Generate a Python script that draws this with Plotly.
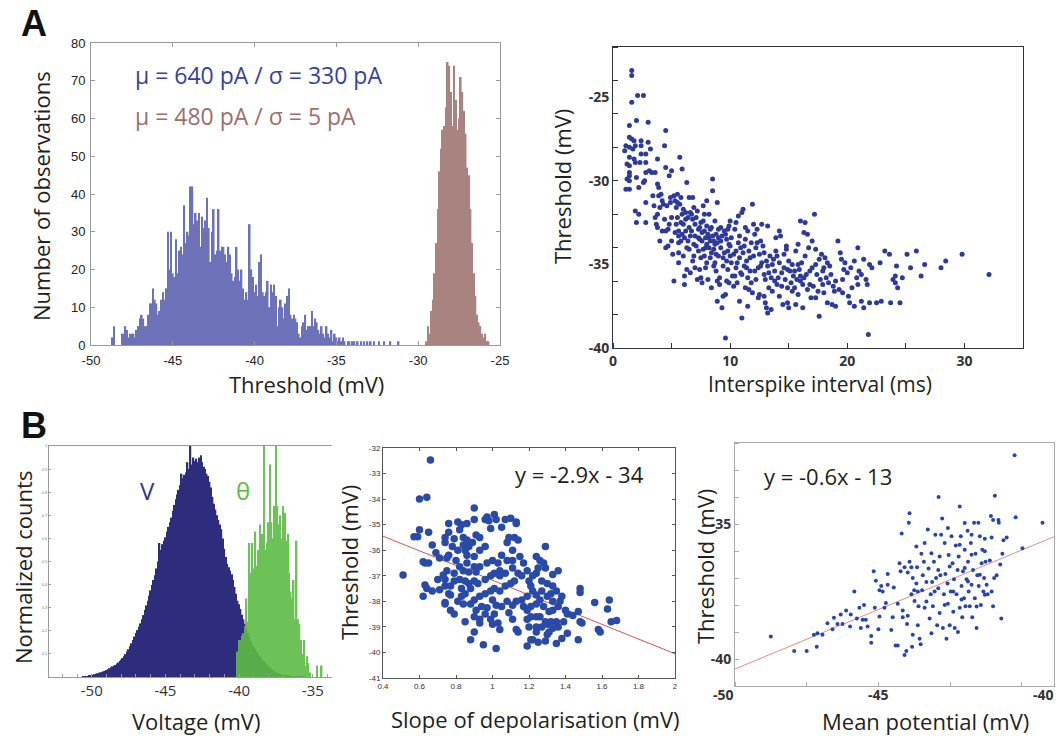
import numpy as np
import plotly.graph_objects as go

W, H = 1059, 736

# ---------------- panel A left : threshold histograms (counts per 0.1 mV bin)
thr_blue_start = -49.0
thr_blue_counts = [
    0, 0, 0, 2, 5, 0, 0, 0, 0, 3, 3,
    5, 4, 2, 3, 3, 3, 2, 4, 5, 7,
    8, 7, 5, 5, 8, 11, 11, 15, 12, 11,
    8, 9, 12, 14, 12, 15, 30, 20, 30, 19,
    18, 28, 19, 25, 26, 24, 37, 27, 30, 29,
    42, 42, 32, 35, 33, 35, 26, 34, 31, 33,
    39, 31, 22, 30, 36, 24, 25, 36, 25, 26,
    26, 24, 22, 26, 24, 19, 17, 18, 26, 20,
    17, 20, 15, 12, 14, 12, 32, 20, 18, 14,
    16, 13, 22, 24, 14, 13, 14, 17, 10, 16,
    14, 16, 13, 5, 10, 12, 10, 7, 11, 13,
    15, 8, 7, 8, 7, 6, 3, 2, 5, 6,
    8, 4, 5, 5, 9, 5, 7, 6, 4, 3,
    5, 3, 2, 5, 3, 2, 4, 1, 3, 2,
    1, 2, 1, 2, 1, 0, 1, 1, 0, 1,
    1, 0, 1, 0, 1, 0, 1, 0, 1, 0,
    1, 0, 1, 0, 0, 1, 0, 0, 1, 0,
    0, 0, 1, 0, 0, 0, 0, 1,
]
thr_brown_start = -29.5
thr_brown_counts = [1, 5, 3, 9, 12, 19, 27, 36, 46, 52, 57, 58, 63, 75, 74, 67, 58, 74, 65, 57,
                    60, 71, 67, 62, 56, 47, 45, 36, 27, 19, 13, 8, 6, 5, 3, 2, 3, 1, 1]
thr_ticks = [-50, -45, -40, -35, -30, -25]

# ---------------- panel A right : threshold vs interspike interval (ms, mV)
isi_points = [
    (1.0, -28.2), (1.1, -27.9), (1.2, -29.0), (1.2, -29.9), (1.1, -30.5), (1.4, -26.7), (1.4, -27.4), (1.4, -28.0),
    (1.4, -28.6), (1.4, -29.1), (1.4, -29.5), (1.4, -30.0), (1.4, -30.5), (1.4, -29.7), (1.6, -23.4), (1.6, -23.7),
    (1.6, -25.3), (1.6, -27.5), (1.7, -28.1), (1.8, -27.6), (1.8, -28.7), (1.9, -27.9), (1.9, -28.9), (2.0, -26.4),
    (2.0, -29.8), (1.9, -31.8), (2.0, -32.5), (2.2, -32.0), (2.2, -30.4),
    (2.4, -27.9), (2.4, -27.6), (2.4, -28.4), (2.1, -24.9), (2.6, -24.9), (2.3, -28.9), (2.6, -30.1), (2.7, -30.0),
    (2.8, -28.4), (2.8, -28.9), (2.8, -29.5), (2.8, -31.3), (2.8, -32.5), (3.0, -26.5), (3.0, -27.7), (3.2, -28.1),
    (3.3, -29.5), (3.1, -29.4), (3.4, -30.9),
    (3.6, -29.5), (3.8, -28.7), (3.8, -30.2), (3.9, -30.4), (3.9, -30.9), (4.0, -31.6), (3.8, -32.0), (3.7, -32.6),
    (3.8, -32.8), (4.0, -33.6), (4.2, -31.2), (4.3, -31.4), (4.4, -27.9), (4.5, -27.0), (4.5, -29.2), (4.4, -32.3),
    (4.5, -33.0), (4.5, -34.0), (4.7, -32.9), (4.8, -29.7), (5.0, -29.4), (4.9, -31.3), (4.9, -31.0), (5.0, -32.2),
    (5.0, -33.6), (5.1, -34.4), (4.7, -33.9), (5.2, -36.0), (5.3, -31.2),
    (5.5, -30.8), (5.5, -31.3), (5.5, -32.2), (5.6, -33.0), (5.6, -33.3), (5.6, -34.3), (5.6, -34.9), (5.7, -28.6),
    (5.9, -29.3), (5.8, -31.0), (5.8, -32.5), (5.9, -33.2), (6.0, -32.6), (6.0, -31.7), (6.0, -34.5), (6.1, -36.2),
    (6.1, -35.7), (6.2, -33.0), (6.2, -31.9), (6.3, -30.1), (6.4, -32.2), (6.4, -33.6), (6.3, -34.0), (6.5, -31.0),
    (6.5, -32.8), (6.5, -34.1),
    (6.6, -33.3), (6.6, -35.5), (6.7, -32.0), (6.8, -31.0), (6.9, -33.8), (6.9, -34.5), (7.0, -32.6), (7.0, -35.2),
    (7.1, -33.9), (7.2, -31.8), (7.3, -34.2), (7.3, -33.4), (7.4, -33.5), (7.4, -35.3), (7.5, -32.5), (7.5, -34.6),
    (7.6, -33.6), (7.6, -36.1), (7.7, -34.1), (7.8, -32.0), (7.8, -33.0), (7.9, -33.4), (7.9, -34.0), (7.9, -35.2),
    (8.0, -32.7), (8.0, -33.8),
    (8.1, -33.2), (8.1, -35.9), (8.2, -32.0), (8.2, -34.0), (8.3, -33.6), (8.3, -34.6), (8.4, -32.8), (8.5, -29.9),
    (8.5, -30.6), (8.5, -33.3), (8.6, -34.1), (8.6, -35.1), (8.7, -32.4), (8.7, -33.8), (8.8, -33.2), (8.8, -34.4),
    (8.8, -35.4), (8.9, -31.3), (8.9, -37.2), (8.9, -36.0), (9.0, -33.4), (9.0, -34.5), (9.1, -35.8), (9.1, -36.2),
    (9.2, -32.8), (9.2, -34.0), (9.3, -33.3), (9.3, -37.6), (9.4, -35.1), (9.4, -36.9), (9.5, -34.3),
    (9.6, -33.2), (9.6, -39.4), (9.7, -34.8), (9.8, -32.9), (9.8, -35.3), (9.9, -33.8), (9.9, -36.1), (10.0, -32.4),
    (10.0, -34.5), (10.1, -33.4), (10.2, -35.7), (10.3, -36.3), (10.4, -32.9), (10.5, -34.2), (10.5, -35.2),
    (10.6, -36.1), (10.7, -32.1), (10.8, -34.6), (10.8, -33.3), (10.9, -35.5), (11.0, -38.2), (11.0, -31.9),
    (11.1, -31.7), (11.1, -34.3), (11.2, -35.1), (11.3, -33.5), (11.3, -36.4), (11.4, -34.8), (11.5, -33.0),
    (11.5, -35.8), (11.6, -34.2), (11.7, -35.4), (11.8, -33.7), (11.8, -36.1), (11.9, -31.4), (12.0, -32.6),
    (12.0, -34.5), (12.1, -33.2), (12.2, -35.9), (12.2, -34.0), (12.3, -32.9), (12.4, -35.2), (12.5, -34.4),
    (12.5, -36.8),
    (12.7, -32.6), (12.8, -33.9), (12.9, -35.6), (12.9, -36.9), (13.0, -37.3), (13.1, -34.8), (13.1, -37.6),
    (13.2, -32.7), (13.2, -35.1), (13.3, -36.4), (13.4, -34.5), (13.5, -35.8), (13.5, -37.7), (13.6, -36.6),
    (13.7, -34.7), (13.8, -35.4), (13.9, -34.2), (14.0, -36.2),
    (14.1, -35.8), (14.2, -33.0), (14.2, -34.9), (14.3, -33.3), (14.4, -35.5), (14.4, -36.3), (14.5, -37.4),
    (14.6, -34.4), (14.7, -35.9), (14.8, -33.9), (14.9, -36.4), (15.0, -37.6), (15.0, -34.8), (15.1, -35.4),
    (15.2, -36.1), (15.3, -35.0), (15.4, -35.7), (15.5, -36.4),
    (15.6, -34.2), (15.6, -37.4), (15.7, -35.9), (15.8, -33.8), (15.8, -36.8), (15.9, -35.3), (16.0, -32.4),
    (16.0, -35.7), (16.1, -34.9), (16.2, -36.2), (16.3, -33.1), (16.4, -32.5), (16.4, -34.5), (16.5, -35.6),
    (16.6, -36.5), (16.7, -34.0), (16.8, -35.4), (16.9, -37.0), (17.0, -35.2),
    (17.2, -32.0), (17.3, -34.1), (17.4, -35.6), (17.5, -36.6), (17.6, -34.7), (17.6, -38.1), (17.7, -35.9),
    (17.8, -34.4), (17.9, -36.2), (18.0, -35.2), (18.0, -36.7), (18.1, -34.6), (18.2, -35.8), (18.3, -37.3),
    (18.4, -36.1), (18.5, -35.1), (18.7, -37.4), (18.8, -36.3), (19.0, -37.5),
    (19.2, -33.6), (19.3, -36.5), (19.4, -34.3), (19.5, -34.7), (19.6, -36.7), (19.7, -35.3), (19.8, -34.9),
    (20.0, -35.5), (20.1, -36.9), (20.4, -36.4), (20.6, -34.8), (20.6, -37.5), (20.8, -35.8), (20.9, -34.0),
    (20.9, -36.2), (21.0, -35.4), (21.2, -35.6), (21.4, -34.7), (21.4, -37.6), (21.6, -35.9), (21.7, -36.2),
    (21.8, -39.2), (21.9, -35.0), (21.9, -37.3),
    (22.1, -35.2), (22.5, -37.3), (22.8, -34.9), (22.9, -37.2), (23.2, -34.2), (23.6, -34.4), (23.7, -37.3),
    (23.9, -35.9), (24.1, -35.7), (24.1, -36.1), (24.2, -35.1), (24.3, -36.4), (24.5, -37.3), (24.7, -35.8),
    (25.1, -34.4), (25.4, -35.2), (25.9, -34.2), (26.3, -35.7), (26.6, -35.0), (28.0, -35.2), (28.4, -34.8),
    (29.8, -34.4), (32.1, -35.6),
    (5.4, -31.6), (5.7, -31.4), (5.9, -32.0), (6.2, -32.3), (6.6, -31.9), (6.8, -32.3), (7.1, -32.2), (7.3, -32.9),
    (7.7, -32.4), (7.6, -33.1), (8.3, -32.9), (8.6, -33.6), (8.9, -33.7), (9.2, -33.6), (9.5, -33.0), (9.7, -33.5),
    (10.0, -33.9), (10.3, -34.4), (10.6, -34.9), (10.9, -34.0), (11.4, -35.2), (11.7, -34.6), (12.1, -35.4),
    (12.6, -35.1), (13.3, -35.5), (13.8, -36.0), (14.6, -35.2), (15.3, -36.6), (16.0, -36.0), (16.8, -36.2),
    (17.3, -35.0), (18.6, -35.6), (5.6, -33.7), (6.8, -34.8), (7.2, -35.9), (8.0, -34.9), (9.8, -34.2),
    (10.4, -35.7), (11.9, -36.7), (12.9, -34.3), (14.2, -36.9), (15.8, -35.0), (17.0, -33.6), (19.6, -35.9),
    (20.3, -35.2),
    (4.1, -30.8), (4.6, -31.5), (5.2, -30.9), (5.4, -32.6), (5.8, -33.6), (6.1, -33.4), (6.7, -33.0), (7.0, -33.3),
    (7.4, -32.8), (7.8, -34.5), (8.2, -33.4), (8.4, -34.3), (8.7, -34.9), (9.0, -32.9), (9.4, -34.6), (9.7, -36.0),
    (10.1, -34.9), (10.7, -33.7), (11.0, -35.6), (11.2, -33.9), (11.6, -36.5), (12.3, -33.7), (12.7, -34.9),
    (13.0, -35.9), (13.6, -35.0), (14.0, -34.5), (14.9, -35.3), (15.5, -35.4), (16.3, -35.8), (17.1, -36.3),
    (17.9, -35.4), (18.3, -34.9), (19.0, -36.0), (3.5, -31.5), (3.6, -32.2), (4.2, -33.0), (4.8, -32.6),
    (5.3, -33.1), (6.9, -31.6), (7.7, -31.5), (8.0, -31.2), (9.9, -32.7), (10.5, -32.5), (11.3, -32.8),
    (12.6, -33.6), (13.9, -33.4), (14.8, -34.1), (16.6, -33.2), (6.3, -35.3), (7.5, -35.8), (8.4, -36.4),
    (9.6, -36.8), (10.8, -37.2), (11.5, -37.5), (12.4, -37.0), (13.2, -37.9), (14.9, -37.3), (16.2, -37.6),
    (17.3, -37.0), (18.9, -36.6), (20.2, -37.3), (21.2, -37.2),
]
isi_xticks = [0, 10, 20, 30]
isi_yticks = [-40, -35, -30, -25]

# ---------------- panel B left : normalized histograms of V and theta
volt_start = -51.0
volt_counts = [
    0, 0, 0, 0, 0.001, 0.002, 0.003, 0.004, 0.005, 0.006,
    0.008, 0.010, 0.012, 0.014, 0.016, 0.018, 0.020, 0.022, 0.025, 0.027,
    0.030, 0.034, 0.038, 0.042, 0.046, 0.049, 0.052, 0.058, 0.063, 0.069,
    0.075, 0.082, 0.090, 0.099, 0.110, 0.120, 0.133, 0.146, 0.160, 0.175,
    0.190, 0.203, 0.218, 0.232, 0.250, 0.268, 0.290, 0.310, 0.330, 0.352,
    0.375, 0.398, 0.420, 0.440, 0.470, 0.500, 0.580, 0.550, 0.575, 0.590,
    0.605, 0.630, 0.650, 0.670, 0.690, 0.720, 0.745, 0.770, 0.790, 0.810,
    0.830, 0.880, 0.860, 0.875, 0.885, 0.930, 0.900, 1.000, 0.920, 0.950,
    0.935, 0.945, 0.930, 0.950, 0.960, 0.930, 0.910, 0.900, 0.880, 0.870,
    0.845, 0.820, 0.780, 0.750, 0.725, 0.700, 0.680, 0.660, 0.640, 0.600,
    0.555, 0.520, 0.490, 0.475, 0.460, 0.445, 0.420, 0.390, 0.360, 0.330,
    0.315, 0.295, 0.270, 0.250, 0.230, 0.210, 0.190, 0.172, 0.156, 0.140,
    0.130, 0.120, 0.110, 0.100, 0.091, 0.083, 0.074, 0.066, 0.060, 0.053,
    0.047, 0.041, 0.035, 0.030, 0.026, 0.022, 0.019, 0.016, 0.013, 0.011,
    0.010, 0.008, 0.007, 0.006, 0.005, 0.004, 0.004, 0.003, 0.003, 0.003,
    0.002, 0.002, 0.001, 0.001, 0.001,
]
theta_start = -40.1
theta_counts = [
    0.11, 0.16, 0.16, 0.18, 0.19, 0.22, 0.34, 0.24, 0.58, 0.45,
    0.58, 0.47, 0.63, 0.48, 0.55, 0.66, 0.57, 0.62, 1.00, 0.55,
    0.58, 0.67, 0.92, 0.67, 0.60, 0.74, 1.00, 0.74, 0.66, 0.70,
    0.60, 0.74, 0.71, 0.59, 0.62, 0.45, 0.37, 0.34, 0.42, 0.25,
    0.59, 0.25, 0.23, 0.16, 0.10, 0.16, 0.05, 0.09, 0.06, 0.02,
    0, 0, 0, 0, 0.05, 0, 0, 0.05, 0,
]
volt_xticks = [-50, -45, -40, -35]
norm_yticks = [0.1, 0.2, 0.3, 0.4, 0.5, 0.6, 0.7, 0.8, 0.9, 1.0]

# ---------------- panel B middle : threshold vs slope of depolarisation
slope_points = [
    (0.66, -32.47), (0.60, -34.0), (0.64, -33.93), (0.51, -36.97), (0.57, -35.47), (0.59, -35.47), (0.60, -35.2),
    (0.65, -35.3), (0.67, -35.8), (0.63, -36.5), (0.65, -36.5), (0.62, -36.45), (0.63, -37.36), (0.64, -37.5),
    (0.62, -37.8), (0.74, -38.05), (0.69, -36.1), (0.71, -36.3), (0.74, -35.7), (0.76, -34.95), (0.74, -35.5),
    (0.76, -35.3), (0.81, -34.9), (0.83, -35.0), (0.82, -35.2), (0.84, -35.5), (0.86, -34.95), (0.90, -34.35),
    (0.90, -34.8), (0.87, -35.85), (0.86, -36.2), (0.76, -36.2), (0.75, -36.3), (0.78, -35.85), (0.79, -35.55),
    (0.84, -35.8), (0.91, -35.4), (0.93, -35.5), (0.97, -34.7), (0.98, -34.85), (1.01, -34.6), (1.02, -34.8),
    (0.99, -35.15), (0.96, -35.85), (0.93, -36.0), (0.90, -36.25), (0.86, -36.5), (0.82, -36.65), (0.79, -36.9),
    (0.73, -36.97), (0.74, -37.15), (0.74, -37.4), (0.77, -37.4), (0.77, -37.75), (0.79, -37.2), (0.83, -37.5),
    (0.85, -37.2), (0.87, -36.85), (0.90, -36.65), (0.91, -36.85), (0.93, -36.65), (0.97, -36.5), (1.00, -36.4),
    (1.03, -36.5), (1.05, -36.2), (1.08, -36.4), (1.07, -36.9), (1.04, -36.8), (1.01, -36.9), (0.99, -37.0),
    (0.96, -37.15), (0.92, -37.3), (0.90, -37.2), (0.88, -37.5), (0.85, -37.7), (0.83, -37.8), (0.81, -38.0),
    (0.76, -37.7), (0.74, -38.1), (0.77, -38.35), (0.79, -38.5), (0.84, -38.1), (0.88, -38.1), (0.90, -37.95),
    (0.93, -37.8), (0.96, -37.7), (0.99, -37.6), (1.01, -37.5), (1.04, -37.6), (1.07, -37.4), (1.10, -37.3),
    (1.12, -37.2), (1.14, -36.9), (1.11, -36.7), (1.08, -35.7), (1.09, -35.5), (1.12, -35.5), (1.14, -35.6),
    (1.10, -34.75), (1.13, -34.9), (1.13, -34.95), (1.11, -36.0), (1.11, -36.4), (1.15, -36.25), (1.17, -36.5),
    (1.19, -36.8), (1.16, -37.0), (1.20, -37.2), (1.21, -37.4), (1.22, -37.6), (1.19, -37.8), (1.16, -37.95),
    (1.13, -38.0), (1.11, -38.15), (1.08, -38.0), (1.05, -38.2), (1.02, -38.15), (1.00, -37.95), (0.97, -38.25),
    (0.94, -38.2), (0.91, -38.35), (0.90, -38.6), (0.93, -38.7), (0.96, -38.5), (0.99, -38.7), (1.01, -38.5),
    (1.00, -38.9), (1.03, -38.85), (1.04, -39.1), (1.09, -38.45), (1.11, -38.7), (1.13, -39.1), (1.14, -39.2),
    (1.17, -38.2), (1.19, -38.35), (1.21, -38.2), (1.24, -38.1), (1.26, -37.95), (1.24, -37.75), (1.27, -37.6),
    (1.30, -37.8), (1.28, -38.2), (1.31, -38.4), (1.33, -38.35), (1.36, -38.2), (1.37, -38.0), (1.40, -38.35),
    (1.41, -38.5), (1.39, -38.8), (1.35, -38.8), (1.32, -38.8), (1.29, -38.8), (1.26, -38.6), (1.24, -38.6),
    (1.21, -38.6), (1.19, -38.7), (1.20, -39.0), (1.24, -39.0), (1.27, -39.0), (1.30, -38.9), (1.33, -39.05),
    (1.36, -39.0), (1.31, -39.2), (1.24, -39.2), (1.21, -39.5), (1.22, -39.5), (1.25, -39.6), (1.29, -39.55),
    (1.35, -39.65), (1.38, -39.45), (1.30, -39.3), (1.19, -39.75), (0.95, -39.7), (0.88, -39.5), (1.02, -39.85),
    (0.93, -38.85), (0.85, -38.8), (0.90, -39.2), (1.41, -39.25), (1.47, -38.4), (1.48, -38.8), (1.49, -38.85),
    (1.48, -37.5), (1.48, -37.65), (1.47, -39.5), (1.44, -38.55), (1.33, -36.95), (1.36, -36.8), (1.29, -35.85),
    (1.24, -36.25), (1.26, -36.4), (1.28, -36.5), (1.25, -36.7), (1.29, -36.7), (1.24, -36.9), (1.22, -37.0),
    (1.27, -37.2), (1.30, -37.3), (1.33, -37.4), (1.35, -37.6), (1.32, -37.7), (1.38, -37.8), (1.33, -38.0),
    (1.56, -38.05), (1.58, -39.1), (1.59, -39.2), (1.63, -38.3), (1.65, -38.8), (1.64, -37.95), (1.68, -38.75),
    (1.04, -37.0), (1.07, -34.8), (1.05, -35.1), (0.96, -34.8), (0.89, -35.7), (0.86, -35.6), (0.85, -36.0),
    (0.81, -36.0), (0.80, -36.4), (0.84, -36.8), (0.87, -37.3), (0.82, -37.15), (0.75, -36.8), (0.70, -37.15),
    (0.71, -37.55), (0.67, -37.6),
]
slope_fit_x = [0.4, 2.0]
slope_fit_y = [-35.45, -40.05]
slope_yticks = [-41, -40, -39, -38, -37, -36, -35, -34, -33, -32]

# ---------------- panel B right : threshold vs mean potential
meanv_points = [
    (-41.2, -32.45), (-48.0, -39.17), (-47.35, -39.7), (-47.0, -39.7), (-46.72, -39.55), (-46.8, -39.1),
    (-46.7, -39.05), (-46.56, -39.1), (-46.28, -38.9), (-46.14, -38.7), (-46.05, -38.35), (-46.0, -38.7),
    (-45.9, -38.2), (-45.77, -38.35), (-45.67, -37.5), (-45.6, -38.5), (-45.53, -38.1), (-45.49, -38.85),
    (-45.4, -38.0), (-45.35, -38.55), (-45.3, -38.8), (-45.2, -39.15), (-45.2, -39.4), (-45.1, -38.1),
    (-45.13, -36.75), (-45.07, -37.1), (-45.0, -38.9), (-44.97, -37.45), (-44.92, -37.3), (-44.88, -37.5),
    (-44.74, -36.85), (-44.6, -38.45), (-44.57, -37.35), (-44.52, -39.5), (-44.46, -39.5), (-44.41, -36.45),
    (-44.38, -36.75), (-44.35, -35.35), (-44.32, -38.2), (-44.32, -38.45), (-44.27, -39.85), (-44.22, -39.7),
    (-44.2, -38.7), (-44.18, -38.4), (-44.18, -36.8), (-44.15, -34.95), (-44.13, -34.6), (-44.13, -36.4),
    (-44.08, -37.6), (-44.06, -39.55), (-44.04, -37.0), (-44.04, -39.1), (-44.0, -37.45), (-43.99, -37.85),
    (-43.94, -37.2), (-43.92, -36.6), (-43.9, -38.75), (-43.88, -38.05), (-43.85, -39.25), (-43.82, -39.45),
    (-43.8, -36.1), (-43.78, -37.45), (-43.76, -36.9), (-43.73, -36.4), (-43.71, -38.1), (-43.66, -37.15),
    (-43.62, -35.2), (-43.6, -36.65), (-43.57, -38.5), (-43.54, -37.6), (-43.52, -39.05), (-43.5, -37.15),
    (-43.48, -38.05), (-43.45, -36.4), (-43.43, -37.5), (-43.41, -35.4), (-43.39, -37.0), (-43.36, -38.75),
    (-43.33, -36.7), (-43.32, -34.0), (-43.29, -38.3), (-43.27, -36.9), (-43.25, -35.4), (-43.22, -34.8),
    (-43.2, -38.85), (-43.17, -37.6), (-43.15, -35.7), (-43.13, -36.85), (-43.1, -39.25), (-43.07, -37.2),
    (-43.06, -37.95), (-43.04, -36.15), (-43.01, -38.75), (-42.98, -37.5), (-42.96, -35.45), (-42.93, -36.45),
    (-42.91, -38.25), (-42.89, -37.05), (-42.87, -38.85), (-42.84, -35.8), (-42.82, -37.6), (-42.79, -36.7),
    (-42.78, -39.0), (-42.76, -36.2), (-42.73, -34.35), (-42.73, -38.1), (-42.7, -35.45), (-42.68, -37.3),
    (-42.66, -38.45), (-42.64, -36.75), (-42.61, -37.75), (-42.59, -35.95), (-42.57, -38.05), (-42.54, -37.05),
    (-42.51, -35.25), (-42.5, -36.4), (-42.48, -37.5), (-42.45, -38.05), (-42.42, -35.7), (-42.4, -37.25),
    (-42.38, -38.45), (-42.36, -36.7), (-42.33, -34.95), (-42.31, -37.75), (-42.29, -36.1), (-42.26, -38.85),
    (-42.24, -36.9), (-42.21, -34.95), (-42.2, -37.3), (-42.17, -35.45), (-42.14, -38.0), (-42.12, -36.45),
    (-42.1, -35.95), (-42.07, -37.5), (-42.05, -37.0), (-42.03, -35.55), (-42.01, -36.4), (-41.98, -37.25),
    (-41.95, -37.6), (-41.89, -36.35), (-41.86, -34.7), (-41.84, -35.5), (-41.8, -34.85), (-41.8, -38.05),
    (-41.77, -37.0), (-41.75, -33.95), (-41.7, -36.9), (-41.65, -34.85), (-41.64, -34.95), (-41.6, -36.5),
    (-41.57, -38.5), (-41.54, -36.1), (-41.51, -35.6), (-41.42, -35.5), (-41.17, -34.75), (-40.98, -35.9),
    (-40.42, -34.95),
    (-43.9, -37.5), (-43.66, -37.87), (-43.33, -37.38), (-43.15, -38.0), (-42.91, -37.5), (-42.68, -37.8),
    (-42.5, -37.13), (-42.26, -38.06), (-42.59, -36.63), (-43.01, -36.57), (-43.29, -36.2), (-43.52, -36.08),
    (-43.71, -35.7), (-43.94, -35.83), (-43.06, -35.15), (-42.73, -35.77), (-42.4, -36.14), (-42.17, -36.88),
    (-42.03, -37.62), (-41.84, -37.5), (-42.4, -35.4), (-42.59, -34.96), (-42.03, -36.01),
    (-46.42, -38.68), (-46.24, -38.47), (-45.79, -38.8), (-45.44, -38.55), (-44.97, -38.43), (-44.83, -38.1),
    (-44.74, -37.25), (-44.64, -38.93), (-44.79, -37.93), (-44.46, -37.95), (-44.27, -36.6), (-44.08, -36.6),
]
meanv_fit_x = [-49.0, -40.1]
meanv_fit_y = [-40.37, -35.47]
meanv_yticks = [-40, -35]


def bin_centers(start, counts, step=0.1):
    return np.round(start + step * np.arange(len(counts)), 2)


def hyphen(vals):
    # the original figure uses a plain hyphen for negative tick labels
    return [f"{v:g}" for v in vals]


def dom_x(left, right):
    return [left / W, right / W]


def dom_y(top, bottom):
    return [1 - bottom / H, 1 - top / H]


def label(text, x, y, size=22, color="#231f20", angle=0, family="Open Sans", weight="normal", xanchor="center"):
    return dict(text=text, x=x / W, y=1 - y / H, xref="paper", yref="paper", showarrow=False,
                textangle=angle, xanchor=xanchor, yanchor="middle",
                font=dict(family=family, size=size, color=color, weight=weight))


fig = go.Figure()

# A left
fig.add_trace(go.Bar(x=bin_centers(thr_blue_start, thr_blue_counts), y=thr_blue_counts, width=0.1,
                     marker=dict(color="#6d71b7", line_width=0), xaxis="x", yaxis="y"))
fig.add_trace(go.Bar(x=bin_centers(thr_brown_start, thr_brown_counts), y=thr_brown_counts, width=0.1,
                     marker=dict(color="#a8837f", line_width=0), xaxis="x", yaxis="y"))

# A right
isi_ms, isi_thr = zip(*isi_points)
fig.add_trace(go.Scatter(x=isi_ms, y=isi_thr, mode="markers", marker=dict(size=5, color="#2d3a99"),
                         xaxis="x2", yaxis="y2"))

# B left
fig.add_trace(go.Bar(x=bin_centers(volt_start, volt_counts), y=volt_counts, width=0.1,
                     marker=dict(color="#2e2c7c", line_width=0), xaxis="x3", yaxis="y3"))
fig.add_trace(go.Bar(x=bin_centers(theta_start, theta_counts), y=theta_counts, width=0.1, opacity=0.9,
                     marker=dict(color="#5dbb45", line_width=0), xaxis="x3", yaxis="y3"))

# B middle
sl_x, sl_y = zip(*slope_points)
fig.add_trace(go.Scatter(x=slope_fit_x, y=slope_fit_y, mode="lines", line=dict(color="#d9534f", width=1),
                         xaxis="x4", yaxis="y4"))
fig.add_trace(go.Scatter(x=sl_x, y=sl_y, mode="markers", marker=dict(size=7.5, color="#2a4aa8"),
                         xaxis="x4", yaxis="y4"))

# B right
mv_x, mv_y = zip(*meanv_points)
fig.add_trace(go.Scatter(x=meanv_fit_x, y=meanv_fit_y, mode="lines", line=dict(color="#e58a8a", width=1),
                         xaxis="x5", yaxis="y5"))
fig.add_trace(go.Scatter(x=mv_x, y=mv_y, mode="markers", marker=dict(size=4, color="#2846a8"),
                         xaxis="x5", yaxis="y5"))

base = dict(showgrid=False, zeroline=False, showline=True, linewidth=1, automargin=False)
bold14 = dict(family="Open Sans", size=14, color="#333", weight="bold")

fig.update_layout(
    width=W, height=H, margin=dict(l=0, r=0, t=0, b=0, pad=0),
    paper_bgcolor="white", plot_bgcolor="white", showlegend=False, barmode="overlay",
    # A left
    xaxis=dict(base, domain=dom_x(91, 500), anchor="y", range=[-50, -25],
               tickvals=thr_ticks, ticktext=hyphen(thr_ticks), ticks="inside", ticklen=4,
               mirror="ticks", linecolor="#9a9a9a", tickcolor="#9a9a9a", ticklabelstandoff=3,
               tickfont=dict(family="Liberation Sans", size=13, color="#222")),
    yaxis=dict(base, domain=dom_y(43, 345), anchor="x", range=[0, 80], dtick=10, ticks="inside", ticklen=4,
               mirror="ticks", linecolor="#9a9a9a", tickcolor="#9a9a9a", ticklabelstandoff=2,
               tickfont=dict(family="Liberation Sans", size=13, color="#222")),
    # A right
    xaxis2=dict(base, domain=dom_x(613, 1023), anchor="y2", range=[0, 35], tickvals=isi_xticks,
                ticks="", mirror=True, linecolor="#333",
                minor=dict(tick0=0, dtick=5, ticks="inside", ticklen=5, tickcolor="#333"),
                tickfont=bold14),
    yaxis2=dict(base, domain=dom_y(47, 348), anchor="x2", range=[-40, -22], tickvals=isi_yticks,
                ticktext=hyphen(isi_yticks), ticks="", mirror=True, linecolor="#333",
                minor=dict(tick0=-40, dtick=2, ticks="inside", ticklen=5, tickcolor="#333"),
                tickfont=bold14),
    # B left
    xaxis3=dict(base, domain=dom_x(49, 332), anchor="y3", range=[-52.9, -33.7], tickvals=volt_xticks,
                ticktext=hyphen(volt_xticks), ticks="", mirror=True, linecolor="#9a9a9a",
                minor=dict(tick0=-52, dtick=1, ticks="inside", ticklen=3, tickcolor="#9a9a9a"),
                tickfont=dict(family="Open Sans", size=15, color="#333")),
    yaxis3=dict(base, domain=dom_y(446, 677), anchor="x3", range=[0, 1],
                tickvals=norm_yticks, ticktext=[f"{v:g}" for v in norm_yticks],
                ticks="inside", ticklen=2, tickcolor="#9a9a9a", linecolor="#9a9a9a",
                tickfont=dict(family="Liberation Sans", size=4, color="#777")),
    # B middle
    xaxis4=dict(base, domain=dom_x(383, 675), anchor="y4", range=[0.4, 2], dtick=0.2, ticks="inside", ticklen=3,
                mirror="ticks", linecolor="#555", tickcolor="#555",
                tickfont=dict(family="Liberation Sans", size=8, color="#333")),
    yaxis4=dict(base, domain=dom_y(448, 678), anchor="x4", range=[-41, -32], tickvals=slope_yticks,
                ticktext=hyphen(slope_yticks), ticks="inside", ticklen=3,
                mirror="ticks", linecolor="#555", tickcolor="#555",
                tickfont=dict(family="Liberation Sans", size=8, color="#333")),
    # B right (x labels drawn as annotations: they sit off the tick positions in the original)
    xaxis5=dict(base, domain=dom_x(735, 1054), anchor="y5", range=[-49, -40.1], showticklabels=False,
                ticks="", mirror=True, linecolor="#aaa",
                minor=dict(tick0=-49, dtick=1, ticks="inside", ticklen=4, tickcolor="#aaa")),
    yaxis5=dict(base, domain=dom_y(443, 686), anchor="x5", range=[-41, -32], tickvals=meanv_yticks,
                ticktext=hyphen(meanv_yticks), ticks="", mirror=True, linecolor="#aaa",
                minor=dict(tick0=-41, dtick=1, ticks="inside", ticklen=4, tickcolor="#aaa"),
                tickfont=bold14),
    annotations=[
        label("A", 34, 23, size=36, color="#111", family="Liberation Sans", weight="bold"),
        label("B", 34, 425, size=36, color="#111", family="Liberation Sans", weight="bold"),
        label("Number of observations", 41, 196, angle=-90),
        label("Threshold (mV)", 306, 384),
        label("μ = 640 pA / σ = 330 pA", 133, 75, size=23, color="#3b40a0", xanchor="left"),
        label("μ = 480 pA / σ = 5 pA", 133, 116, size=23, color="#9e6e6b", xanchor="left"),
        label("Threshold (mV)", 562, 187, angle=-90),
        label("Interspike interval (ms)", 820, 384, size=21),
        label("Normalized counts", 23, 568, angle=-90),
        label("Voltage (mV)", 196, 721),
        label("V", 147, 490, size=24, color="#34338a"),
        label("θ", 243, 490, size=24, color="#5dbb45"),
        label("Threshold (mV)", 349, 563, angle=-90),
        label("Slope of depolarisation (mV)", 535, 719),
        label("y = -2.9x - 34", 579, 474),
        label("Threshold (mV)", 705, 567, angle=-90),
        label("Mean potential (mV)", 925, 721),
        label("y = -0.6x - 13", 828, 476),
        label("-50", 723, 694, size=14, color="#333", weight="bold"),
        label("-45", 878, 694, size=14, color="#333", weight="bold"),
        label("-40", 1043, 694, size=14, color="#333", weight="bold"),
    ],
)

# the page is exactly the figure size, so drop the browser's default body margin
fig.write_html("out.html", config={"displayModeBar": False},
               post_script="document.body.style.margin = '0';")
